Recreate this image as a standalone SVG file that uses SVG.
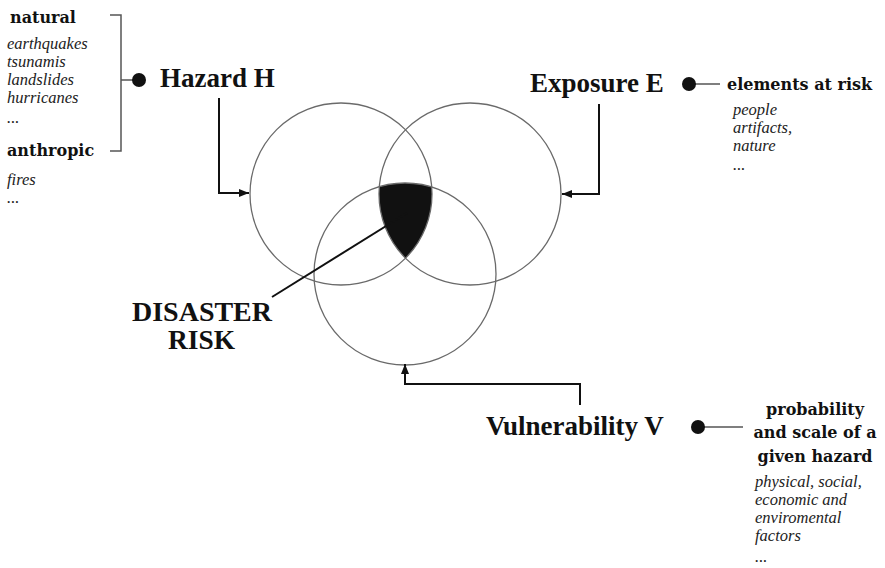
<svg xmlns="http://www.w3.org/2000/svg" width="885" height="568" viewBox="0 0 885 568">
<defs>
<marker id="arr" markerUnits="userSpaceOnUse" markerWidth="11" markerHeight="9" refX="10" refY="4" orient="auto">
<path d="M0,0 L10,4 L0,8 z" fill="#111"/>
</marker>
</defs>
<style>
.circ{fill:none;stroke:#6a6a6a;stroke-width:1.3}
.big{font-family:"Liberation Serif","Times New Roman",serif;font-weight:bold;font-size:27px;fill:#111}
.sub{font-family:"DejaVu Serif",serif;font-weight:bold;font-size:16px;fill:#111}
.it{font-family:"Liberation Serif","Times New Roman",serif;font-style:italic;font-size:16.5px;fill:#222}
.con{fill:none;stroke:#111;stroke-width:2}
.brk{fill:none;stroke:#555;stroke-width:1.5}
.dot{fill:#111}
</style>
<rect width="885" height="568" fill="#fff"/>

<g id="risk-area">
<path d="M379.3,186.7 A91,91 0 0 1 431.7,187 A91,91 0 0 1 405.5,258.2 A91,91 0 0 1 379.3,186.7 Z" fill="#111"/>
</g>
<g id="circle-hazard"><circle class="circ" cx="341" cy="194" r="91"/></g>
<g id="circle-exposure"><circle class="circ" cx="470" cy="194" r="91"/></g>
<g id="circle-vulnerability"><circle class="circ" cx="405" cy="274" r="91"/></g>

<g id="connectors">
<path class="con" d="M219,98 V193 H249" marker-end="url(#arr)"/>
<path class="con" d="M599,104 V194 H562" marker-end="url(#arr)"/>
<path class="con" d="M580,405 V384 H405 V364" marker-end="url(#arr)"/>
<path class="con" d="M272,297 L407,213"/>
<path class="brk" d="M110,15 H121 V151 H110"/>
<path class="brk" d="M121,80 H139"/>
<path class="brk" d="M689,84 H720"/>
<path class="brk" d="M698,427 H743"/>
</g>

<g id="hazard">
<circle class="dot" cx="139" cy="80" r="7"/>
<text class="big" x="160" y="87">Hazard H</text>
</g>
<g id="hazard-types">
<text class="sub" x="10" y="23" font-size="16.6">natural</text>
<text class="it" x="7" y="49">earthquakes</text>
<text class="it" x="7" y="67">tsunamis</text>
<text class="it" x="7" y="85">landslides</text>
<text class="it" x="7" y="103">hurricanes</text>
<text class="it" x="7" y="123">...</text>
<text class="sub" x="7" y="156" font-size="16.6">anthropic</text>
<text class="it" x="7" y="185">fires</text>
<text class="it" x="7" y="203">...</text>
</g>

<g id="exposure">
<text class="big" x="530" y="92">Exposure E</text>
<circle class="dot" cx="689" cy="84" r="7"/>
</g>
<g id="elements-at-risk">
<text class="sub" x="727" y="90">elements at risk</text>
<text class="it" x="733" y="115">people</text>
<text class="it" x="733" y="133">artifacts,</text>
<text class="it" x="733" y="151">nature</text>
<text class="it" x="733" y="170">...</text>
</g>

<g id="vulnerability">
<text class="big" x="486" y="435">Vulnerability V</text>
<circle class="dot" cx="698" cy="427" r="7"/>
</g>
<g id="vulnerability-factors">
<text class="sub" text-anchor="middle"><tspan x="815" y="415">probability</tspan><tspan x="815" y="438">and scale of a</tspan><tspan x="815" y="462">given hazard</tspan></text>
<text class="it"><tspan x="755" y="487">physical, social,</tspan><tspan x="755" y="505">economic and</tspan><tspan x="755" y="523">enviromental</tspan><tspan x="755" y="541">factors</tspan><tspan x="755" y="562">...</tspan></text>
</g>

<g id="disaster-risk">
<text class="big" font-size="25" x="132" y="321" textLength="140" lengthAdjust="spacingAndGlyphs">DISASTER</text>
<text class="big" font-size="25" x="168" y="349" textLength="67" lengthAdjust="spacingAndGlyphs">RISK</text>
</g>
</svg>
